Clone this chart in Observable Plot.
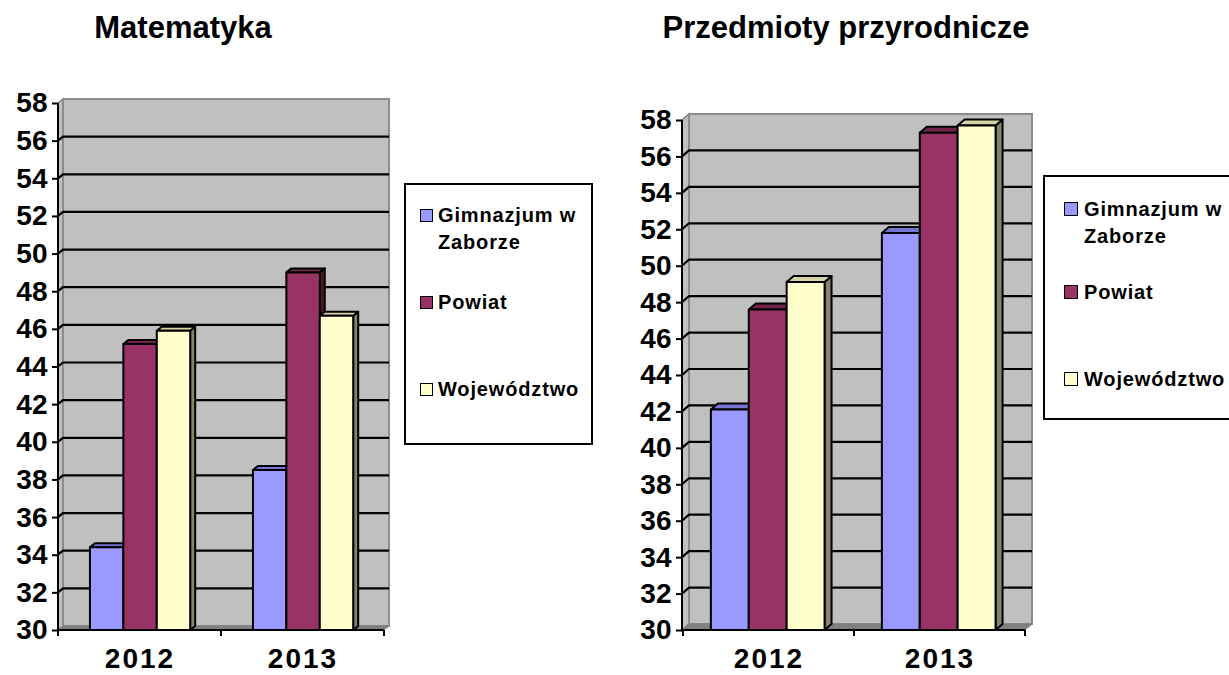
<!DOCTYPE html>
<html>
<head>
<meta charset="utf-8">
<script src="https://cdn.jsdelivr.net/npm/d3@7"></script>
<script src="https://cdn.jsdelivr.net/npm/@observablehq/plot@0.6"></script>
<style>
  html, body { margin: 0; padding: 0; background: #fff; }
  #wrap { position: relative; width: 1229px; height: 675px; overflow: hidden; font-family: Arial, "Liberation Sans", sans-serif; color: #000; }
  .chart { position: absolute; top: 0; }
  .chart g[aria-label="x-axis tick label"] text { letter-spacing: 2px; }
  .title { position: absolute; top: 10px; font-weight: bold; font-size: 31px; line-height: 36px; white-space: nowrap; transform: translateX(-50%); }
  .legend { position: absolute; border: 2px solid #000; box-sizing: border-box; background: #fff; }
  .sw { position: absolute; border: 1.5px solid #000; box-sizing: border-box; }
  .lt { position: absolute; font-weight: bold; font-size: 20px; line-height: 27px; letter-spacing: 0.85px; white-space: nowrap; }
</style>
</head>
<body>
<div id="wrap"></div>
<script>
// ---- data ----
const years = ["2012", "2013"];
const seriesNames = ["Gimnazjum w Zaborze", "Powiat", "Województwo"];
const seriesFill = ["#9999FF", "#993366", "#FFFFCC"];
const seriesTop = ["#7474D2", "#6E2449", "#D4D4A6"];
const seriesSide = ["#5A5AA6", "#4A1530", "#85856A"];
const yTicks = [30, 32, 34, 36, 38, 40, 42, 44, 46, 48, 50, 52, 54, 56, 58];
const titles = ["Matematyka", "Przedmioty przyrodnicze"];

const mathGimnazjum = [34.4, 38.5];
const mathPowiat = [45.2, 49.0];
const mathWojewodztwo = [45.9, 46.7];

const sciGimnazjum = [42.1, 51.8];
const sciPowiat = [47.6, 57.3];
const sciWojewodztwo = [49.1, 57.7];

function toRows(a, b, c) {
  const out = [];
  [a, b, c].forEach((vals, k) => vals.forEach((v, j) => out.push({year: years[j], series: seriesNames[k], k, value: v})));
  return out;
}

function makeChart(cfg) {
  const {rows, width, marginLeft, marginRight, marginTop, marginBottom, dx, dy, barStart, barFrac, fontSize} = cfg;
  const yBase = yTicks[0], yMax = yTicks[yTicks.length - 1];

  const background = Plot.frame({
    render(index, scales, values, dims) {
      const {y} = scales;
      const L = dims.marginLeft, R = dims.width - dims.marginRight;
      const y0 = y(yBase), y1 = y(yMax);
      const g = d3.create("svg:g");
      g.append("path").attr("d", `M${L},${y0}L${L + dx},${y0 - dy}L${L + dx},${y1 - dy}L${L},${y1}Z`)
        .attr("fill", "#c0c0c0").attr("stroke", "#808080").attr("stroke-width", 1.5);
      g.append("rect").attr("x", L + dx).attr("y", y1 - dy).attr("width", R - L).attr("height", y0 - y1)
        .attr("fill", "#c0c0c0").attr("stroke", "#8c8c8c").attr("stroke-width", 2);
      g.append("path").attr("d", `M${L},${y0}L${L + dx},${y0 - dy}L${R + dx},${y0 - dy}L${R},${y0}Z`)
        .attr("fill", "#808080").attr("stroke", "#808080");
      for (const t of yTicks.slice(1, -1)) {
        const yy = y(t);
        g.append("path").attr("d", `M${L},${yy}L${L + dx},${yy - dy}L${R + dx},${yy - dy}`)
          .attr("fill", "none").attr("stroke", "#000").attr("stroke-width", 2.2);
      }
      return g.node();
    }
  });

  const bars = Plot.barY(rows, {
    x: "year",
    y1: () => yBase,
    y2: "value",
    render(index, scales, values) {
      const {x, y} = scales;
      const bw = x.bandwidth();
      const g = d3.create("svg:g").attr("stroke", "#000").attr("stroke-width", 2).attr("stroke-linejoin", "round");
      for (const i of index) {
        const d = rows[i];
        const w = bw * barFrac;
        const left = x(d.year) + bw * barStart + d.k * w;
        const top = y(d.value), bot = y(yBase);
        g.append("path").attr("fill", seriesSide[d.k])
          .attr("d", `M${left + w},${top}L${left + w + dx},${top - dy}L${left + w + dx},${bot - dy}L${left + w},${bot}Z`);
        g.append("path").attr("fill", seriesTop[d.k])
          .attr("d", `M${left},${top}L${left + dx},${top - dy}L${left + w + dx},${top - dy}L${left + w},${top}Z`);
        g.append("rect").attr("fill", seriesFill[d.k])
          .attr("x", left).attr("y", top).attr("width", w).attr("height", bot - top);
      }
      return g.node();
    }
  });

  const axisLines = Plot.frame({
    render(index, scales, values, dims) {
      const {x, y} = scales;
      const L = dims.marginLeft, R = dims.width - dims.marginRight;
      const y0 = y(yBase), y1 = y(yMax);
      const g = d3.create("svg:g").attr("stroke", "#000").attr("stroke-width", 2).attr("fill", "none");
      g.append("path").attr("d", `M${L},${y1}L${L},${y0}L${R},${y0}`);
      const edges = years.map(v => x(v)).concat([x(years[years.length - 1]) + x.bandwidth()]);
      for (const e of edges) g.append("path").attr("d", `M${e},${y0}L${e},${y0 + 6}`);
      return g.node();
    }
  });

  return Plot.plot({
    width, height: 675, marginLeft, marginRight, marginTop, marginBottom,
    style: {fontFamily: "Arial, 'Liberation Sans', sans-serif", color: "#000", background: "transparent", overflow: "visible"},
    x: {type: "band", domain: years, padding: 0, label: null, axis: null},
    y: {domain: [yBase, yMax], label: null, axis: null},
    marks: [
      background,
      bars,
      axisLines,
      Plot.axisY({ticks: yTicks, tickSize: 6, tickPadding: 5, strokeWidth: 2, fontSize, fontWeight: "bold", label: null}),
      Plot.axisX({tickSize: 0, tickPadding: 18, fontSize, fontWeight: "bold", label: null})
    ]
  });
}

function makeLegend(cfg) {
  const box = document.createElement("div");
  box.className = "legend";
  Object.assign(box.style, {left: cfg.left + "px", top: cfg.top + "px", width: cfg.width + "px", height: cfg.height + "px"});
  const labels = [["Gimnazjum w", "Zaborze"], ["Powiat"], ["Województwo"]];
  labels.forEach((lines, k) => {
    const sw = document.createElement("div");
    sw.className = "sw";
    Object.assign(sw.style, {left: cfg.swX + "px", top: (cfg.centers[k] - cfg.sw / 2) + "px", width: cfg.sw + "px", height: cfg.sw + "px", background: seriesFill[k]});
    box.appendChild(sw);
    const t = document.createElement("div");
    t.className = "lt";
    t.style.left = cfg.textX + "px";
    t.style.top = (cfg.centers[k] - 13.5) + "px";
    t.innerHTML = lines.join("<br>");
    box.appendChild(t);
  });
  return box;
}

const wrap = document.getElementById("wrap");

const c1 = makeChart({
  rows: toRows(mathGimnazjum, mathPowiat, mathWojewodztwo),
  width: 600, marginLeft: 58, marginRight: 216, marginTop: 103, marginBottom: 45,
  dx: 5, dy: 4, barStart: 0.196, barFrac: 0.205, fontSize: 28
});
c1.classList.add("chart"); c1.style.left = "0px";
wrap.appendChild(c1);

const c2 = makeChart({
  rows: toRows(sciGimnazjum, sciPowiat, sciWojewodztwo),
  width: 629, marginLeft: 82, marginRight: 204, marginTop: 120, marginBottom: 45,
  dx: 7, dy: 6, barStart: 0.163, barFrac: 0.2216, fontSize: 28
});
c2.classList.add("chart"); c2.style.left = "600px";
wrap.appendChild(c2);

[[titles[0], 183], [titles[1], 846]].forEach(([txt, cx]) => {
  const t = document.createElement("div");
  t.className = "title";
  t.style.left = cx + "px";
  t.textContent = txt;
  wrap.appendChild(t);
});

wrap.appendChild(makeLegend({left: 404, top: 183, width: 189, height: 262, swX: 14, sw: 13, textX: 32, centers: [30, 117, 204]}));
wrap.appendChild(makeLegend({left: 1043, top: 175, width: 260, height: 245, swX: 19, sw: 14, textX: 39, centers: [32, 115, 202]}));
</script>
</body>
</html>
